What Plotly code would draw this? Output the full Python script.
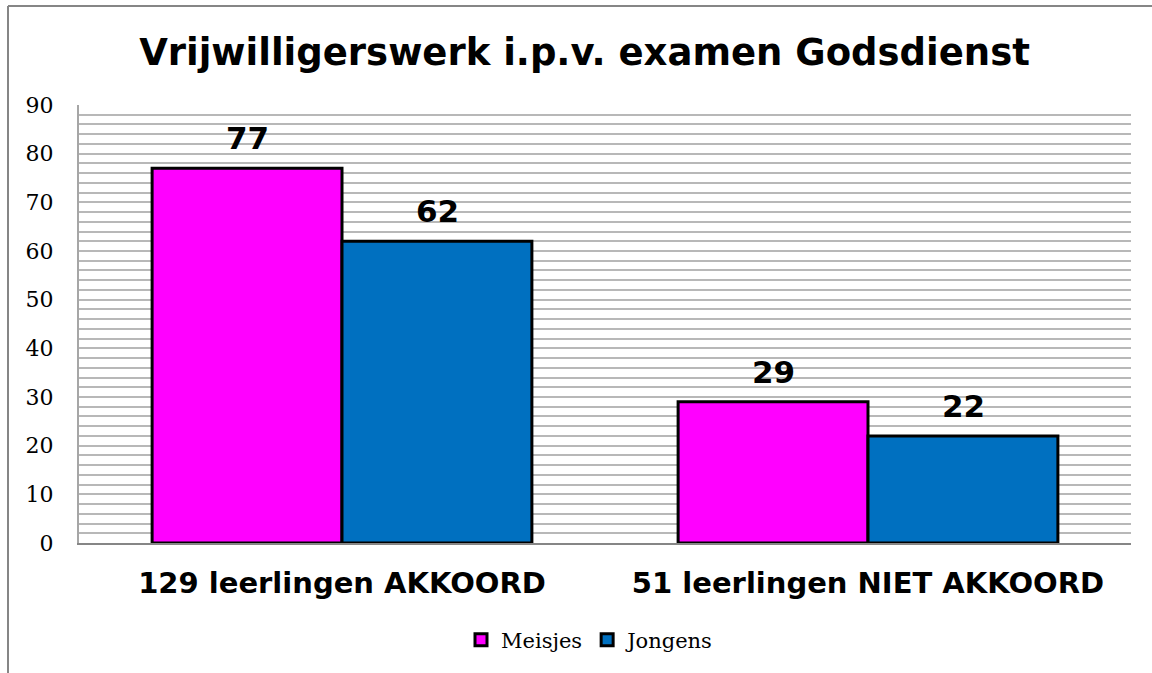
import plotly.graph_objects as go

categories = ["129 leerlingen AKKOORD", "51 leerlingen NIET AKKOORD"]
meisjes = [77, 29]
jongens = [62, 22]
series_names = ["Meisjes", "Jongens"]
title_text = "Vrijwilligerswerk i.p.v. examen Godsdienst"

colors = ["#FF00FF", "#0070C0"]

W, H = 1152, 673
L, R, T, B = 79, 1131, 105, 543

fig = go.Figure()
for name, vals, col in zip(series_names, [meisjes, jongens], colors):
    fig.add_trace(go.Bar(
        name=name, x=categories, y=vals,
        marker=dict(color=col, line=dict(color="black", width=3)),
    ))

# data labels
for vals, shift in [(meisjes, -95), (jongens, 95)]:
    for c, v in zip(categories, vals):
        fig.add_annotation(
            x=c, y=v, text=str(v), showarrow=False, xshift=shift, yshift=30,
            font=dict(family="DejaVu Sans", size=31, color="black", weight="bold"),
        )

pw = R - L
ph = B - T
def px(x):
    return (x - L) / pw
def py(y):
    return (B - y) / ph

# outer chart frame (left and top)
fig.add_shape(type="line", xref="paper", yref="paper",
              x0=px(8), x1=px(8), y0=py(6), y1=py(680),
              line=dict(color="#868686", width=2))
fig.add_shape(type="line", xref="paper", yref="paper",
              x0=px(8), x1=px(1160), y0=py(6), y1=py(6),
              line=dict(color="#868686", width=2))

fig.update_layout(
    width=W, height=H,
    margin=dict(l=L, r=W - R, t=T, b=H - B),
    paper_bgcolor="white", plot_bgcolor="white",
    barmode="group", bargap=0.278, bargroupgap=0,
    title=dict(text=title_text, x=(137 + 1032) / 2 / W, xanchor="center",
               y=1 - 52 / H, yanchor="middle",
               font=dict(family="DejaVu Sans", size=37, color="black", weight="bold")),
    legend=dict(orientation="h", x=px(590), xanchor="center", y=py(640), yanchor="middle",
                font=dict(family="DejaVu Serif", size=21, color="black"),
                itemwidth=30, tracegroupgap=0, bgcolor="rgba(0,0,0,0)"),
    showlegend=True,
)
fig.update_yaxes(
    range=[0, 90], dtick=10, tick0=0,
    showgrid=True, gridcolor="#b8b8b8", gridwidth=2,
    minor=dict(dtick=2, showgrid=True, gridcolor="#b8b8b8", gridwidth=2),
    showline=True, linecolor="#a6a6a6", linewidth=2,
    ticks="", ticklabelstandoff=19,
    tickfont=dict(family="DejaVu Serif", size=22, color="black"),
    zeroline=False, fixedrange=True,
)
fig.update_xaxes(
    showline=True, linecolor="#868686", linewidth=2,
    ticks="", ticklabelstandoff=13,
    tickfont=dict(family="DejaVu Sans", size=29, color="black", weight="bold"),
    fixedrange=True,
)

fig.write_html("out.html", config={"displayModeBar": False},
               post_script="document.body.style.margin='0';")
